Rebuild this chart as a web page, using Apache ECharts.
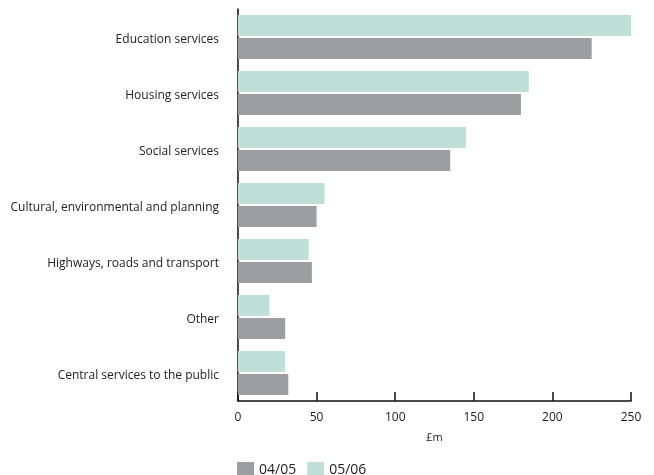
<!DOCTYPE html>
<html>
<head>
<meta charset="utf-8">
<script src="https://cdn.jsdelivr.net/npm/echarts@6/dist/echarts.min.js"></script>
<style>
  html, body { margin: 0; padding: 0; background: #fff; }
  #chart { width: 654px; height: 475px; }
</style>
</head>
<body>
<div id="chart"></div>
<script>
// Spending by service, £m
const categories = [
  'Education services',
  'Housing services',
  'Social services',
  'Cultural, environmental and planning',
  'Highways, roads and transport',
  'Other',
  'Central services to the public'
];
const values0405 = [225, 180, 135, 50, 47, 30, 32];
const values0506 = [250, 185, 145, 55, 45, 20, 30];
const xTicks = [0, 50, 100, 150, 200, 250];

const FONT = '"Open Sans", "Noto Sans", sans-serif';
const chart = echarts.init(document.getElementById('chart'));

chart.setOption({
  animation: false,
  textStyle: { fontFamily: FONT },
  grid: { left: 238, right: 23, top: 9, bottom: 74, containLabel: false },
  legend: {
    data: ['04/05', '05/06'],
    left: 232,
    top: 457,
    itemWidth: 17,
    itemHeight: 17,
    itemGap: 11,
    icon: 'rect',
    textStyle: { fontSize: 14, color: '#222', fontFamily: FONT }
  },
  xAxis: {
    type: 'value',
    min: xTicks[0],
    max: xTicks[xTicks.length - 1],
    interval: xTicks[1] - xTicks[0],
    name: '£m',
    nameLocation: 'middle',
    nameGap: 31,
    nameTextStyle: { fontSize: 11, color: '#222' },
    axisLine: { show: true, lineStyle: { color: '#111', width: 1.5 } },
    axisTick: { show: true, inside: true, length: 9, lineStyle: { color: '#111', width: 1.5 } },
    axisLabel: { fontSize: 12, color: '#222', margin: 11 },
    splitLine: { show: false }
  },
  yAxis: {
    type: 'category',
    inverse: true,
    data: categories,
    axisLine: { show: true, lineStyle: { color: '#111', width: 1.5 } },
    axisTick: { show: false },
    axisLabel: {
      fontSize: 12, color: '#222', margin: 19,
      verticalAlign: 'top', lineHeight: 6
    }
  },
  series: [
    {
      name: '05/06',
      type: 'bar',
      data: values0506,
      barWidth: 21,
      barGap: '10%',
      itemStyle: { color: '#bfe0d7' }
    },
    {
      name: '04/05',
      type: 'bar',
      data: values0405,
      barWidth: 21,
      barGap: '10%',
      itemStyle: { color: '#9d9ea0' }
    }
  ]
});
</script>
</body>
</html>
